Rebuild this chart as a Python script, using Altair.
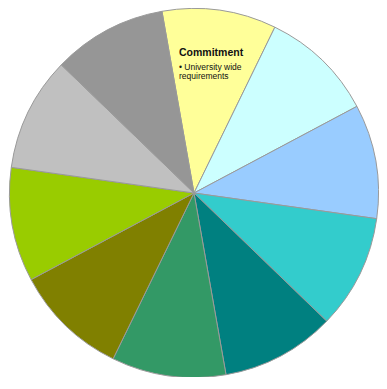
import math
import altair as alt
import pandas as pd

categories = ["Commitment", "Segment 2", "Segment 3", "Segment 4", "Segment 5",
              "Segment 6", "Segment 7", "Segment 8", "Segment 9", "Segment 10"]
values = [1, 1, 1, 1, 1, 1, 1, 1, 1, 1]
colors = ["#FFFF99", "#CCFFFF", "#99CCFF", "#33CCCC", "#008080",
          "#339966", "#808000", "#99CC00", "#C0C0C0", "#969696"]

label_title = "Commitment"
label_line1 = "\u2022 University wide"
label_line2 = "requirements"

df = pd.DataFrame({"cat": categories, "val": values, "idx": list(range(len(categories)))})

start = math.radians(-10)
CX, CY, R = 186, 185, 184.5

pie = alt.Chart(df).mark_arc(outerRadius=R, stroke="#9a9a9a", strokeWidth=1).encode(
    theta=alt.Theta("val:Q", stack=True, scale=alt.Scale(range=[start, start + 2 * math.pi])),
    color=alt.Color("cat:N", scale=alt.Scale(domain=categories, range=colors), legend=None),
    order=alt.Order("idx:Q"),
    x=alt.value(CX),
    y=alt.value(CY),
)


def label(txt, y, size, weight="normal"):
    return alt.Chart(pd.DataFrame({"t": [txt]})).mark_text(
        align="left", baseline="alphabetic", font="Liberation Sans", fontSize=size,
        fontWeight=weight, color="#111111"
    ).encode(text="t:N", x=alt.value(CX - 15), y=alt.value(CY + y))


chart = alt.layer(
    pie,
    label(label_title, -137, 10.5, "bold"),
    label(label_line1, -123, 8.5),
    label(label_line2, -114, 8.5),
).properties(
    width=371, height=369, padding=0,
    autosize=alt.AutoSizeParams(type="none")
).configure_view(stroke="transparent")

chart.save("out.html", embed_options={"renderer": "svg", "actions": False})
